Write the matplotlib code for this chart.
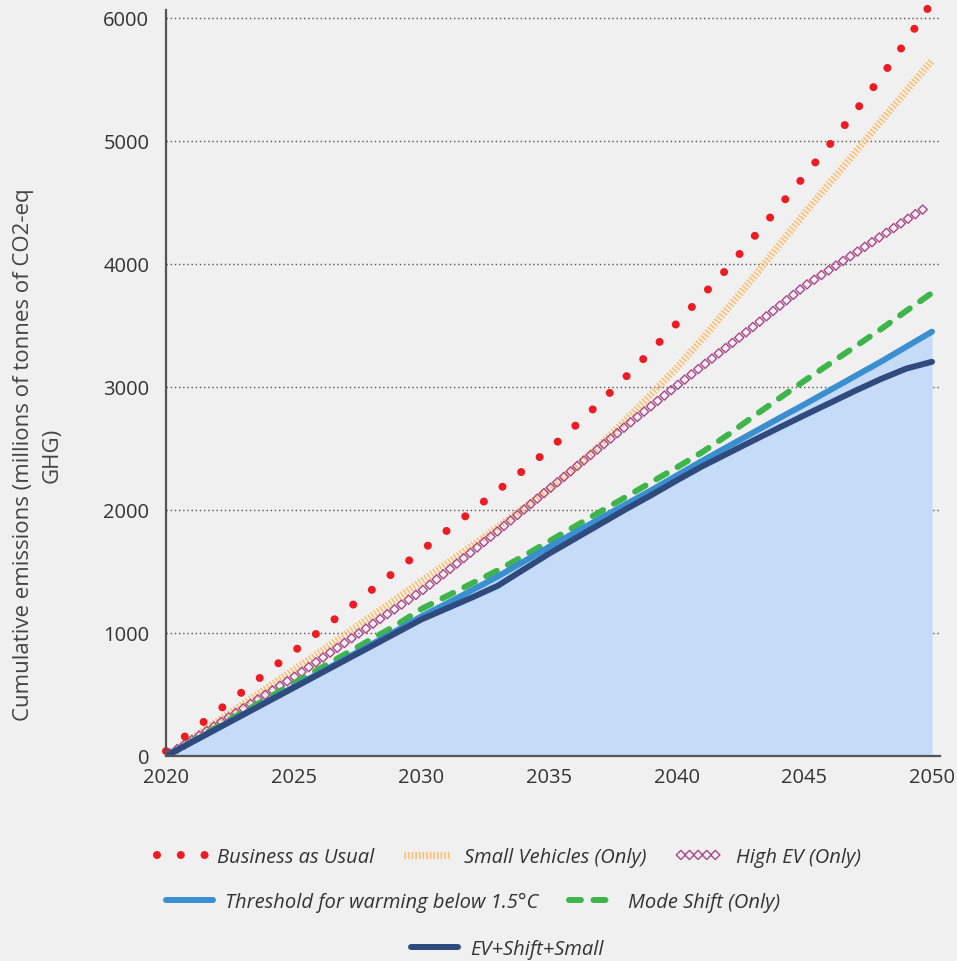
import matplotlib
matplotlib.use("Agg")
import matplotlib.pyplot as plt
import numpy as np
from matplotlib.path import Path
from matplotlib.patheffects import AbstractPathEffect
from matplotlib.transforms import IdentityTransform

# ---------------------------------------------------------------------------
# Data (cumulative emissions, millions of tonnes CO2-eq)
# ---------------------------------------------------------------------------
years = list(range(2020, 2051))

business_as_usual = [40, 201, 362, 523, 689, 850, 1013, 1177, 1341, 1505,
                     1668, 1832, 1994, 2160, 2323, 2492, 2679, 2874, 3080, 3293,
                     3516, 3742, 3967, 4214, 4462, 4715, 4972, 5242, 5519, 5815,
                     6130]
small_vehicles = [0, 140, 280, 420, 560, 700, 840, 985, 1130, 1275,
                  1420, 1565, 1712, 1862, 2015, 2170, 2340, 2530, 2730, 2940,
                  3155, 3390, 3640, 3890, 4150, 4410, 4660, 4910, 5160, 5410,
                  5655]
high_ev = [0, 128, 256, 384, 512, 640, 780, 920, 1060, 1200,
           1340, 1500, 1665, 1830, 2000, 2170, 2340, 2510, 2680, 2845,
           3010, 3170, 3330, 3490, 3655, 3820, 3955, 4090, 4225, 4360,
           4490]
threshold_15c = [0, 112, 224, 336, 448, 560, 674, 788, 902, 1016,
                 1135, 1240, 1350, 1460, 1580, 1700, 1815, 1930, 2045, 2160,
                 2280, 2400, 2515, 2630, 2745, 2858, 2974, 3090, 3206, 3328,
                 3450]
mode_shift = [0, 118, 236, 354, 472, 590, 708, 826, 944, 1062,
              1195, 1300, 1405, 1510, 1625, 1745, 1865, 1985, 2105, 2225,
              2345, 2470, 2610, 2760, 2905, 3050, 3190, 3330, 3470, 3620,
              3765]
ev_shift_small = [0, 111, 222, 333, 444, 555, 666, 777, 888, 999,
                  1110, 1200, 1290, 1385, 1515, 1645, 1765, 1885, 2005, 2120,
                  2240, 2355, 2460, 2565, 2668, 2770, 2870, 2970, 3065, 3150,
                  3205]

x_ticks = [2020, 2025, 2030, 2035, 2040, 2045, 2050]
y_ticks = [0, 1000, 2000, 3000, 4000, 5000, 6000]

BG = "#f0f0f0"
FONT = "Open Sans"


class DiamondChain(AbstractPathEffect):
    """Draw a line as a chain of small upright open diamonds (SVG-marker look)."""

    def __init__(self, spacing=6.6, size=3.3, linewidth=1.0):
        super().__init__()
        self._spacing = spacing
        self._size = size
        self._lw = linewidth

    def draw_path(self, renderer, gc, tpath, affine, rgbFace=None):
        xy = affine.transform(tpath.vertices)
        dist = np.concatenate([[0.0], np.cumsum(np.hypot(*np.diff(xy, axis=0).T))])
        step = renderer.points_to_pixels(self._spacing)
        r = renderer.points_to_pixels(self._size)
        pos = np.arange(r, max(dist[-1] - r, r) + 1e-6, step)
        cx = np.interp(pos, dist, xy[:, 0])
        cy = np.interp(pos, dist, xy[:, 1])
        verts, codes = [], []
        for x, y in zip(cx, cy):
            verts += [(x - r, y), (x, y + r), (x + r, y), (x, y - r), (x - r, y)]
            codes += [Path.MOVETO, Path.LINETO, Path.LINETO, Path.LINETO, Path.CLOSEPOLY]
        if not verts:
            return
        gc0 = renderer.new_gc()
        gc0.copy_properties(gc)
        gc0.set_linewidth(self._lw)
        gc0.set_dashes(0, None)
        renderer.draw_path(gc0, Path(verts, codes), IdentityTransform(), None)
        gc0.restore()


plt.rcParams["font.family"] = [FONT, "DejaVu Sans"]

fig = plt.figure(figsize=(9.57, 9.62), dpi=100, facecolor=BG)
ax = fig.add_axes([166 / 957, 1 - 757 / 962, (940 - 166) / 957, (757 - 11) / 962])
ax.set_facecolor(BG)

# shaded area under the 1.5°C threshold
ax.fill_between(years, 0, threshold_15c, color="#c6dbf7", linewidth=0, zorder=1)

h_small, = ax.plot(years, small_vehicles, color="#fdbf6f", linewidth=5.2,
                   linestyle=(0, (0.22, 0.28)), dash_capstyle="butt",
                   label="Small Vehicles (Only)", zorder=3)

h_ev, = ax.plot(years, high_ev, color="#a9488a", linewidth=1.0,
                label="High EV (Only)", zorder=4)
h_ev.set_path_effects([DiamondChain(spacing=6.2, size=3.3, linewidth=1.0)])

h_bau, = ax.plot(years, business_as_usual, color="#ed1c24", linewidth=5.8,
                 linestyle=(0, (0.001, 2.95)), dash_capstyle="round",
                 label="Business as Usual", zorder=5, clip_on=False)

h_mode, = ax.plot(years, mode_shift, color="#3db54a", linewidth=4.3,
                  linestyle=(0, (2.0, 2.1)), dash_capstyle="round",
                  label="Mode Shift (Only)", zorder=6)

h_thr, = ax.plot(years, threshold_15c, color="#3a8fd1", linewidth=4.3,
                 solid_capstyle="round",
                 label="Threshold for warming below 1.5°C", zorder=7)

h_all, = ax.plot(years, ev_shift_small, color="#2f4a7d", linewidth=4.3,
                 solid_capstyle="round", label="EV+Shift+Small", zorder=8)

# axes styling
ax.set_xlim(2020, 2020 + 30 * 774 / 766)
ax.set_ylim(0, 6065)
ax.set_xticks(x_ticks)
ax.set_yticks(y_ticks)
ax.tick_params(axis="both", length=0, labelsize=14.5, colors="#333333")
ax.tick_params(axis="x", pad=8)
ax.tick_params(axis="y", pad=12)
for side in ("top", "right"):
    ax.spines[side].set_visible(False)
for side in ("left", "bottom"):
    ax.spines[side].set_color("#555555")
    ax.spines[side].set_linewidth(1.6)
    ax.spines[side].set_zorder(9)

ax.grid(True, axis="y", linestyle=(0, (1, 2)), color="#555555", linewidth=1.0)
ax.set_axisbelow(True)
ax.yaxis.get_gridlines()[0].set_visible(False)

fig.text(38 / 957, 1 - 455 / 962,
         "Cumulative emissions (millions of tonnes of CO2-eq\nGHG)",
         rotation=90, ha="center", va="center", multialignment="center",
         fontsize=16, linespacing=1.45, color="#444444")

# legend rows, centred like the original flow layout
legend_kw = dict(frameon=False, loc="center", handlelength=2.35,
                 handletextpad=0.6, columnspacing=1.5,
                 prop={"family": [FONT, "DejaVu Sans"], "style": "italic",
                       "size": 14.5})
rows = [
    ([h_bau, h_small, h_ev], 509, 858),
    ([h_thr, h_mode], 473, 903),
    ([h_all], 507, 950),
]
for handles, cx, cy in rows:
    leg = fig.legend(handles=handles, ncol=len(handles),
                     bbox_to_anchor=(cx / 957, 1 - cy / 962), **legend_kw)
    for t in leg.get_texts():
        t.set_color("#333333")

fig.savefig("out.png", dpi=100, facecolor=BG)
